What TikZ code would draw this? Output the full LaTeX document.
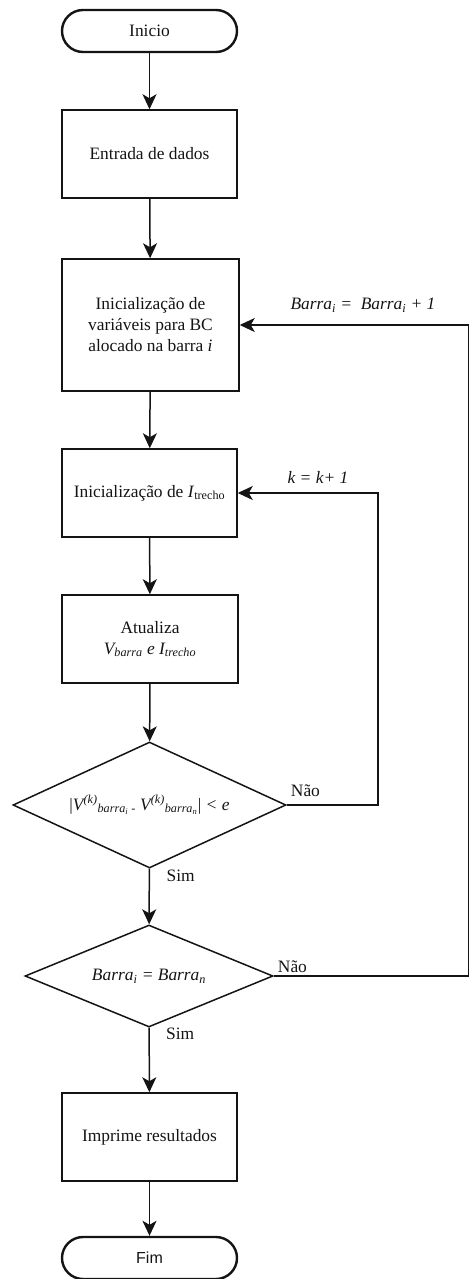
\documentclass[tikz,border=0pt]{standalone}
\usepackage{fontspec}
\setmainfont{Liberation Serif}
\newfontfamily\arialfont{Liberation Sans}
\usepackage{tikz}
\usetikzlibrary{positioning,arrows.meta,shapes.geometric}
\usepackage{xcolor}
\definecolor{inkblack}{RGB}{20,20,20}
\newcommand{\lo}[1]{\textsubscript{#1}}
\newcommand{\hi}[1]{\textsuperscript{#1}}
\tikzset{
  procbox/.style={draw=inkblack,line width=1.5pt,minimum width=175pt,
                  minimum height=88pt,align=center,inner sep=2pt},
  termbox/.style={draw=inkblack,line width=2.4pt,rounded corners=21pt,
                  minimum width=175pt,minimum height=42pt},
  decision/.style={draw=inkblack,line width=1.5pt,diamond,inner sep=0pt},
  flowarrow/.style={draw=inkblack,line width=1.5pt,
                    -{Stealth[length=15pt,width=14pt,inset=4pt]}},
  flowlabel/.style={inner sep=0pt,text=inkblack}
}

\begin{document}
\begin{tikzpicture}[x=1pt,y=-1pt,font=\fontsize{17.4}{21}\selectfont,
                    text=inkblack]
        \useasboundingbox (0,0) rectangle (470,1279);
        % main column
        \node[termbox] (inicio) at (149.5,31) {Inicio};
        \node[procbox] (entrada) at (149.5,154) {Entrada de dados};
        \node[procbox,minimum width=177pt,minimum height=132pt] (initvar)
          at (150.5,325)
          {Inicialização de\\variáveis para BC\\alocado na barra \textit{i}};
        \node[procbox] (inittrecho) at (149.5,493)
          {Inicialização de \textit{I}\lo{trecho}};
        \node[procbox,minimum width=176pt] (atualiza) at (150,639)
          {Atualiza\\\textit{V\lo{barra} e I\lo{trecho}}};
        \node[decision,aspect=2.17,minimum width=273pt,minimum height=126pt]
          (convtest) at (149.5,805)
          {|\textit{V\hi{(k)}\lo{barra\lo{i} -} V\hi{(k)}\lo{barra\lo{n}}}| \textit{< e}};
        \node[decision,aspect=2.43,minimum width=248pt,minimum height=102pt]
          (barratest) at (149,976) {\textit{Barra\lo{i} = Barra\lo{n}}};
        \node[procbox] (imprime) at (149.5,1137) {Imprime resultados};
        \node[termbox,font=\arialfont\fontsize{16}{19}\selectfont] (fim)
          at (149.5,1258) {Fim};

        % loop corners
        \coordinate (kloop) at (378,805);
        \coordinate (barraloop) at (468.5,976);

        % connectors
        \draw[flowarrow] (inicio) -- (entrada);
        \draw[flowarrow] (entrada) -- (initvar);
        \draw[flowarrow] (initvar) -- (inittrecho);
        \draw[flowarrow] (inittrecho) -- (atualiza);
        \draw[flowarrow] (atualiza) -- (convtest);
        \draw[flowarrow] (convtest) -- (barratest);
        \draw[flowarrow] (barratest) -- (imprime);
        \draw[flowarrow] (imprime) -- (fim);
        \draw[flowarrow] (convtest.east) -- (kloop) |- (inittrecho.east);
        \draw[flowarrow] (barratest.east) -- (barraloop) |- (initvar.east);

        % labels
        \node[flowlabel,anchor=south west] (naoconv)
          at ([xshift=4pt,yshift=8pt]convtest.east) {Não};
        \node[flowlabel,anchor=north west] (simconv)
          at ([xshift=17pt,yshift=-1pt]convtest.south) {Sim};
        \node[flowlabel,anchor=south west] (naobarra)
          at ([xshift=4pt,yshift=3pt]barratest.east) {Não};
        \node[flowlabel,anchor=north west] (simbarra)
          at ([xshift=17pt]barratest.south) {Sim};
        \node[flowlabel] (kincr) at (318,477) {\textit{k = k+ 1}};
        \node[flowlabel] (barraincr) at (363,305)
          {\textit{Barra\lo{i} =~ Barra\lo{i} + 1}};
\end{tikzpicture}
\end{document}
